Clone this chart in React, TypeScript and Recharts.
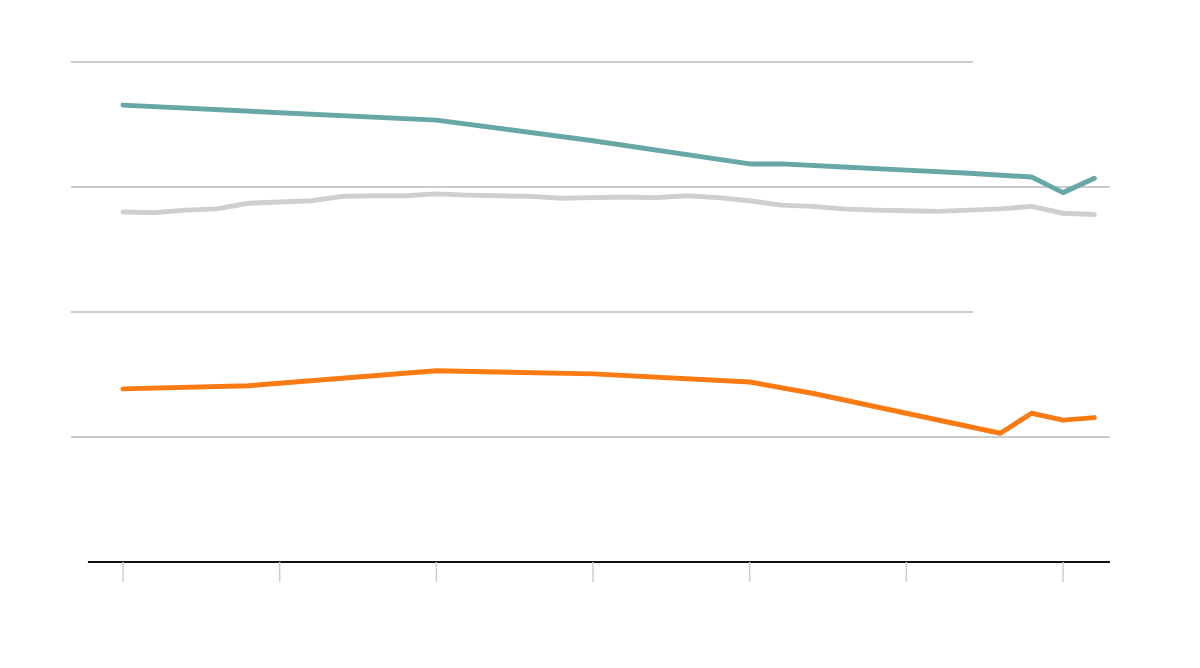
import { LineChart, Line, XAxis, YAxis, ReferenceLine } from 'recharts';

const YEARS = [
  1990, 1991, 1992, 1993, 1994, 1995, 1996, 1997, 1998, 1999, 2000, 2001, 2002, 2003, 2004, 2005,
  2006, 2007, 2008, 2009, 2010, 2011, 2012, 2013, 2014, 2015, 2016, 2017, 2018, 2019, 2020, 2021,
];

const GREY = [
  56.0, 55.9, 56.3, 56.5, 57.4, 57.6, 57.8, 58.5, 58.6, 58.6, 58.9, 58.7, 58.6, 58.5, 58.2, 58.3,
  58.4, 58.3, 58.6, 58.3, 57.8, 57.1, 56.9, 56.5, 56.3, 56.2, 56.1, 56.3, 56.5, 56.9, 55.8, 55.6,
];

// sparse series: gaps are bridged with connectNulls
const TEAL: (number | null)[] = [
  73.1, null, null, null, null, null, null, null, null, null, 70.7, null, null, null, null, 67.4,
  null, null, null, null, 63.7, 63.7, null, 63.2, null, 62.7, null, 62.2, null, 61.6, 59.1, 61.4,
];

const ORANGE: (number | null)[] = [
  27.7, null, null, null, 28.2, null, null, null, null, null, 30.6, null, null, null, null, 30.1,
  null, null, null, null, 28.8, null, 27.0, null, null, null, null, null, 20.6, 23.8, 22.7, 23.1,
];

const X_TICKS = [1990, 1995, 2000, 2005, 2010, 2015, 2020];
const GRID_FULL = [20, 60];
const GRID_SHORT = [40, 80];

const X_MIN = 1988.34;
const X_MAX = 2021.5;
const AXIS_START = 1988.88;
const SHORT_END = 2017.13;

const data = YEARS.map((year, i) => ({
  year,
  grey: GREY[i],
  teal: TEAL[i],
  orange: ORANGE[i],
}));

export default function App() {
  return (
    <div style={{ width: 1184, height: 652, fontFamily: 'Lato, sans-serif' }}>
      <LineChart width={1184} height={652} data={data} margin={{ top: 54, right: 82, bottom: 0, left: 63 }}>
        <XAxis
          dataKey="year"
          type="number"
          domain={[X_MIN, X_MAX]}
          allowDataOverflow
          ticks={X_TICKS}
          tickFormatter={() => ''}
          tickSize={20}
          tickLine={{ stroke: '#cccccc', strokeWidth: 1.5 }}
          axisLine={false}
          height={98}
        />
        <YAxis hide domain={[0, 80]} />
        {GRID_FULL.map((v) => (
          <ReferenceLine
            key={`f-${v}`}
            segment={[{ x: X_MIN, y: v }, { x: X_MAX, y: v }]}
            stroke="#cccccc"
            strokeWidth={2}
          />
        ))}
        {GRID_SHORT.map((v) => (
          <ReferenceLine
            key={`s-${v}`}
            segment={[{ x: X_MIN, y: v }, { x: SHORT_END, y: v }]}
            stroke="#cccccc"
            strokeWidth={2}
          />
        ))}
        <ReferenceLine
          segment={[{ x: AXIS_START, y: 0 }, { x: X_MAX, y: 0 }]}
          stroke="#111111"
          strokeWidth={2}
        />
        <Line
          type="linear"
          dataKey="grey"
          stroke="#cfcfcf"
          strokeWidth={5}
          strokeLinecap="round"
          strokeLinejoin="round"
          dot={false}
          isAnimationActive={false}
        />
        <Line
          type="linear"
          dataKey="teal"
          stroke="#67a8a7"
          strokeWidth={5}
          strokeLinecap="round"
          strokeLinejoin="round"
          dot={false}
          connectNulls
          isAnimationActive={false}
        />
        <Line
          type="linear"
          dataKey="orange"
          stroke="#fb7a12"
          strokeWidth={5}
          strokeLinecap="round"
          strokeLinejoin="round"
          dot={false}
          connectNulls
          isAnimationActive={false}
        />
      </LineChart>
    </div>
  );
}
